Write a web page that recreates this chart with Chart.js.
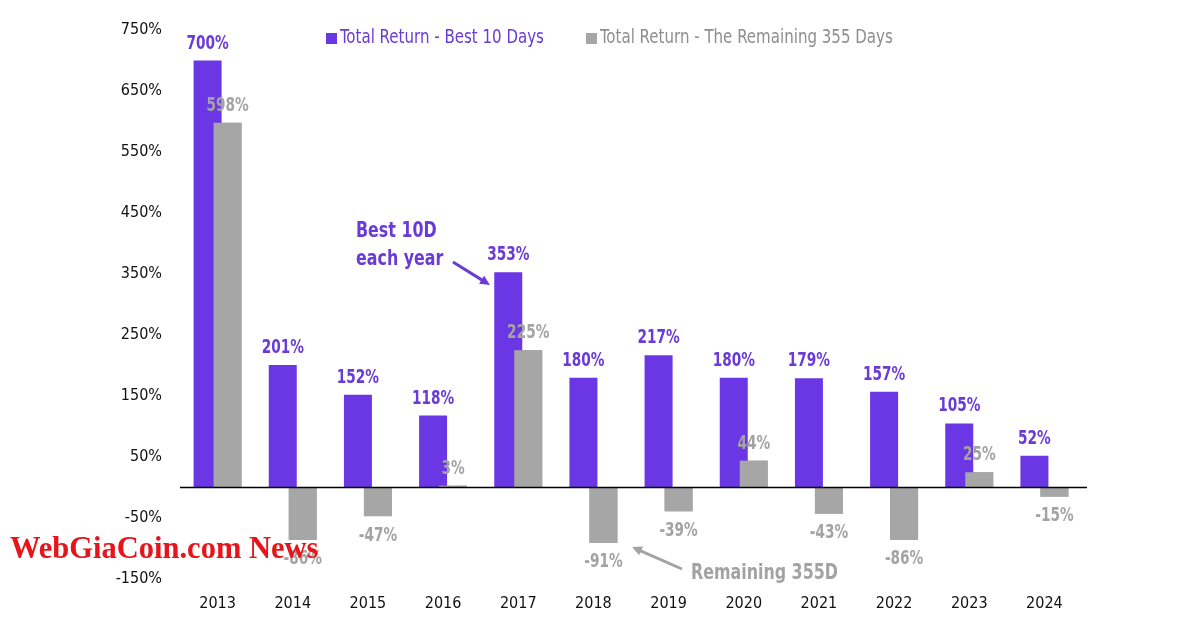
<!DOCTYPE html>
<html>
<head>
<meta charset="utf-8">
<script src="https://cdn.jsdelivr.net/npm/chart.js@4.4.1/dist/chart.umd.min.js"></script>
<style>
  html, body { margin: 0; padding: 0; background: #fff; }
  #wrap { width: 1200px; height: 630px; }
</style>
</head>
<body>
<div id="wrap"><canvas id="chart" width="1200" height="630"></canvas></div>
<script>
// données
const years = ['2013', '2014', '2015', '2016', '2017', '2018', '2019', '2020', '2021', '2022', '2023', '2024'];
const best10 = [700, 201, 152, 118, 353, 180, 217, 180, 179, 157, 105, 52];
const remaining355 = [598, -86, -47, 3, 225, -91, -39, 44, -43, -86, 25, -15];
const seriesNames = ['Total Return - Best 10 Days', 'Total Return - The Remaining 355 Days'];
const yTicks = { min: -150, max: 750, step: 100 };

const PURPLE = '#6B36E3';
const PURPLE_TXT = '#6A3BD6';
const GRAY = '#A6A6A6';
const GRAY_TXT = '#A3A3A3';
const FONT = '"Liberation Sans Narrow", "Arial Narrow", "DejaVu Sans Condensed", sans-serif';

// texte resserré horizontalement (imite une police étroite)
function narrowText(ctx, txt, x, y, sx) {
    ctx.save();
    ctx.translate(x, y);
    ctx.scale(sx, 1);
    ctx.fillText(txt, 0, 0);
    ctx.restore();
}

function arrow(ctx, x1, y1, x2, y2, color) {
    const ang = Math.atan2(y2 - y1, x2 - x1);
    const head = 11;
    ctx.save();
    ctx.strokeStyle = color;
    ctx.fillStyle = color;
    ctx.lineWidth = 3;
    ctx.beginPath();
    ctx.moveTo(x1, y1);
    ctx.lineTo(x2 - Math.cos(ang) * head * 0.8, y2 - Math.sin(ang) * head * 0.8);
    ctx.stroke();
    ctx.beginPath();
    ctx.moveTo(x2, y2);
    ctx.lineTo(x2 - head * Math.cos(ang - 0.45), y2 - head * Math.sin(ang - 0.45));
    ctx.lineTo(x2 - head * Math.cos(ang + 0.45), y2 - head * Math.sin(ang + 0.45));
    ctx.closePath();
    ctx.fill();
    ctx.restore();
}

// barres grises par-dessus les violettes (chevauchement style Excel)
const overlapPlugin = {
    id: 'overlap',
    afterDatasetsDraw(chart) {
        const ctx = chart.ctx;
        chart.getDatasetMeta(1).data.forEach(el => el.draw(ctx));

        // ligne du zéro
        const y0 = chart.scales.y.getPixelForValue(0);
        ctx.save();
        ctx.strokeStyle = '#000';
        ctx.lineWidth = 1.5;
        ctx.beginPath();
        ctx.moveTo(chart.chartArea.left, y0);
        ctx.lineTo(chart.chartArea.right + 5, y0);
        ctx.stroke();
        ctx.restore();
    }
};

const valueLabels = {
    id: 'valueLabels',
    afterDatasetsDraw(chart) {
        const ctx = chart.ctx;
        const colors = [PURPLE_TXT, GRAY_TXT];
        chart.data.datasets.forEach((ds, i) => {
            chart.getDatasetMeta(i).data.forEach((bar, j) => {
                const v = ds.data[j];
                ctx.save();
                ctx.font = 'bold 19px ' + FONT;
                ctx.fillStyle = colors[i];
                ctx.textAlign = 'center';
                if (v >= 0) {
                    ctx.textBaseline = 'alphabetic';
                    narrowText(ctx, v + '%', bar.x, bar.y - 12, 0.8);
                } else {
                    ctx.textBaseline = 'top';
                    narrowText(ctx, v + '%', bar.x, bar.y + 10, 0.8);
                }
                ctx.restore();
            });
        });
    }
};

const extras = {
    id: 'extras',
    afterDraw(chart) {
        const ctx = chart.ctx;
        ctx.save();

        // légende
        ctx.font = '19px ' + FONT;
        ctx.textBaseline = 'middle';
        ctx.fillStyle = PURPLE;
        ctx.fillRect(326, 33, 11, 11);
        ctx.fillStyle = PURPLE_TXT;
        narrowText(ctx, seriesNames[0], 340, 38, 0.88);
        ctx.fillStyle = GRAY;
        ctx.fillRect(586, 33, 11, 11);
        ctx.fillStyle = '#8E8E8E';
        narrowText(ctx, seriesNames[1], 600, 38, 0.88);

        // annotations
        ctx.font = 'bold 21px ' + FONT;
        ctx.fillStyle = PURPLE_TXT;
        narrowText(ctx, 'Best 10D', 356, 232, 0.84);
        narrowText(ctx, 'each year', 356, 260, 0.84);
        arrow(ctx, 453, 262, 490, 285, PURPLE_TXT);

        ctx.fillStyle = GRAY_TXT;
        narrowText(ctx, 'Remaining 355D', 691, 574, 0.84);
        arrow(ctx, 682, 569, 632, 547, GRAY_TXT);

        // filigrane
        ctx.font = 'bold 30.5px "Liberation Serif", "DejaVu Serif", serif';
        ctx.fillStyle = '#E8141B';
        ctx.fillText('WebGiaCoin.com News', 10, 550);
        ctx.restore();
    }
};

new Chart(document.getElementById('chart'), {
    type: 'bar',
    data: {
        labels: years,
        datasets: [
            { label: seriesNames[0], data: best10, backgroundColor: PURPLE,
              categoryPercentage: 0.532, barPercentage: 1.4 },
            { label: seriesNames[1], data: remaining355, backgroundColor: GRAY,
              categoryPercentage: 0.532, barPercentage: 1.4 }
        ]
    },
    options: {
        responsive: false,
        animation: false,
        layout: { padding: { left: 0, top: 30, right: 118, bottom: 0 } },
        plugins: { legend: { display: false }, tooltip: { enabled: false } },
        scales: {
            x: {
                grid: { display: false, drawTicks: false },
                border: { display: false },
                ticks: { color: '#111', padding: 15, font: { family: FONT, size: 16 } },
                afterFit: s => { s.height = 51; }
            },
            y: {
                min: yTicks.min,
                max: yTicks.max,
                grid: { display: false, drawTicks: false },
                border: { display: false },
                ticks: { stepSize: yTicks.step, color: '#111', padding: 18,
                         font: { family: FONT, size: 16 }, callback: v => v + '%' },
                afterFit: s => { s.width = 180; }
            }
        }
    },
    plugins: [overlapPlugin, valueLabels, extras]
});
</script>
</body>
</html>
